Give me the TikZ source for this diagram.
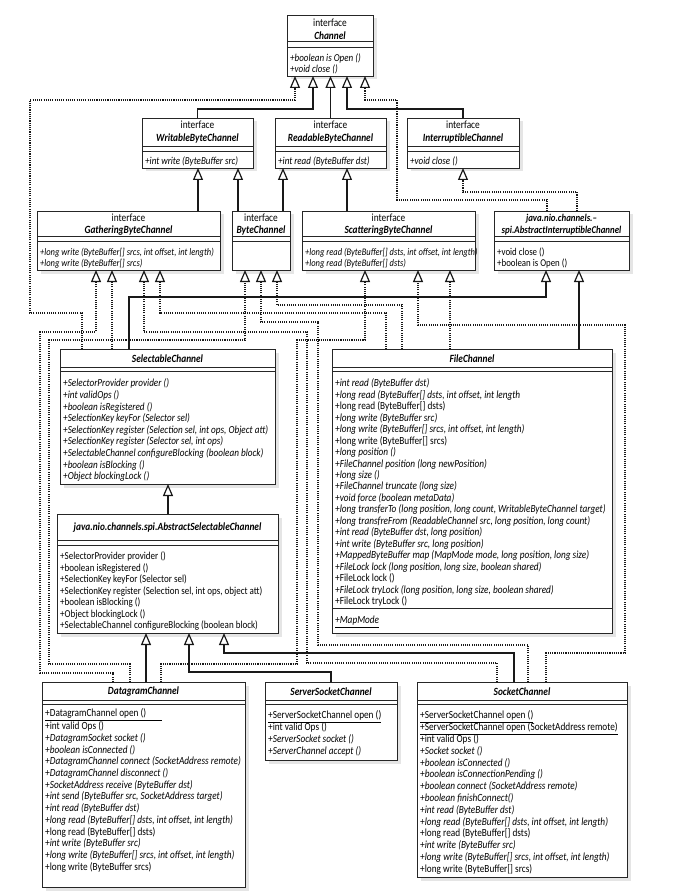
\documentclass[tikz,border=0pt]{standalone}
\usepackage{fontspec}
\setmainfont{Carlito}[FakeStretch=0.85]
\usetikzlibrary{arrows.meta,shadows}
\newcommand\itl[1]{\textit{#1}}
\newcommand\clsname[1]{\textbf{\textit{#1}}}
\newcommand\fstrut{\rule{0pt}{8.7pt}}
\tikzset{
  cls/.style={draw=black!85, line width=0.8pt, fill=white, inner sep=0pt, outer sep=0pt, anchor=north west,
     drop shadow={shadow xshift=3.5pt, shadow yshift=-3.5pt, fill=black!20}},
  sepline/.style={draw=black!85, line width=0.6pt},
  ttl/.style={align=center, inner sep=0pt, font=\fontsize{11}{12.5}\selectfont},
  meth/.style={align=left, inner sep=0pt, anchor=north west, font=\fontsize{10.9}{11.6}\selectfont},
  tip/.style={-{Triangle[open, length=12pt, width=10pt, line width=1.2pt]}},
  gen/.style={tip, line width=1.7pt, draw=black!90},
  real/.style={tip, line width=1.1pt, dash pattern=on 1.1pt off 1.1pt, draw=black!90},
}
\newcommand\uclass[5]{\node[cls, minimum width={#4-#2}, minimum height={#5-#3}] (#1) at (#2,#3) {};}
\newcommand\usep[2]{\draw[sepline] (#1.west |- 0,#2) -- (#1.east |- 0,#2);}
\begin{document}
\begin{tikzpicture}[x=1pt, y=-1pt]
\useasboundingbox (0,0) rectangle (680,893);
\fill[white] (0,0) rectangle (680,893);

% ---------- class boxes ----------
\uclass{Ch}{287}{15}{373}{76}
\uclass{W}{142}{118}{253}{168}
\uclass{R}{275}{118}{386}{168}
\uclass{I}{407}{118}{519}{168}
\uclass{G}{37}{211}{220}{270}
\uclass{B}{232}{211}{290}{270}
\uclass{S}{302}{211}{475}{270}
\uclass{AI}{494}{211}{629}{270}
\uclass{SC}{60}{349}{275}{484}
\uclass{AS}{57}{514}{278}{633}
\uclass{F}{332}{349}{612}{633}
\uclass{D}{42}{682}{245}{887}
\uclass{SS}{265}{682}{397}{760}
\uclass{K}{417}{682}{627}{877}

% ---------- separators ----------
\usep{Ch}{41}\usep{Ch}{47}
\foreach \n in {W,R,I}{\usep{\n}{146}\usep{\n}{151}}
\foreach \n in {G,B,S,AI}{\usep{\n}{236}\usep{\n}{241}}
\foreach \n in {SC,F}{\usep{\n}{367}\usep{\n}{371}}
\usep{AS}{540}\usep{AS}{545}
\usep{F}{608}
\foreach \n in {D,SS,K}{\usep{\n}{700}\usep{\n}{704}}

% ---------- generalization (solid) ----------
\draw[gen] (W.north) |- (313,109) -- (Ch.south -| 313,0);
\draw[gen] (R.north) -- (Ch.south -| R.north);
\draw[gen] (I.north) |- (347,109) -- (Ch.south -| 347,0);
\draw[gen] (G.north -| 198,0) -- (W.south -| 198,0);
\draw[gen] (B.north -| 238,0) -- (W.south -| 238,0);
\draw[gen] (B.north -| 283,0) -- (R.south -| 283,0);
\draw[gen] (S.north -| 347,0) -- (R.south -| 347,0);
\draw[gen] (SC.north -| 129,0) |- (546,297) -- (AI.south -| 546,0);
\draw[gen] (F.north -| 579,0) -- (AI.south -| 579,0);
\draw[gen] (AS.north -| 168,0) -- (SC.south -| 168,0);
\draw[gen] (D.north -| 146,0) -- (AS.south -| 146,0);
\draw[gen] (SS.north) |- (189,672) -- (AS.south -| 189,0);
\draw[gen] (K.north -| 514,0) |- (224,653) -- (AS.south -| 224,0);

% ---------- realization (dotted) ----------
\draw[real] (AI.north -| 547,0) |- (397,200) |- (365,100) -- (Ch.south -| 365,0);
\draw[real] (AI.north -| 577,0) |- (463,192) -- (I.south -| 463,0);
\draw[real] (SC.north -| 82,0) |- (30,313) |- (295,100) -- (Ch.south -| 295,0);
\draw[real] (SC.north -| 112,0) -- (G.south -| 112,0);
\draw[real] (D.north -| 113,0) |- (40,673) |- (96,332) -- (G.south -| 96,0);
\draw[real] (D.north -| 130,0) |- (49,664) |- (245,340) -- (B.south -| 245,0);
\draw[real] (D.north -| 161,0) |- (297,664) |- (365,340) -- (S.south -| 365,0);
\draw[real] (K.north -| 497,0) |- (307,663) |- (144,332) -- (G.south -| 144,0);
\draw[real] (K.north -| 528,0) |- (318,645) |- (261,322) -- (B.south -| 261,0);
\draw[real] (K.north -| 546,0) |- (625,653) |- (418,325) -- (S.south -| 418,0);
\draw[real] (F.north -| 386,0) |- (160,313) -- (G.south -| 160,0);
\draw[real] (F.north -| 402,0) |- (277,305) -- (B.south -| 277,0);
\draw[real] (F.north -| 450,0) -- (S.south -| 450,0);

% ---------- titles ----------
\node[ttl] (Ch-t) at (330,29.5) {interface\\\clsname{Channel}};
\node[ttl] (W-t) at (197.5,132) {interface\\\clsname{WritableByteChannel}};
\node[ttl] (R-t) at (330.5,132) {interface\\\clsname{ReadableByteChannel}};
\node[ttl] (I-t) at (463,132) {interface\\\clsname{InterruptibleChannel}};
\node[ttl] (G-t) at (128.5,224.5) {interface\\\clsname{GatheringByteChannel}};
\node[ttl] (B-t) at (261,224.5) {interface\\\clsname{ByteChannel}};
\node[ttl] (S-t) at (388.5,224.5) {interface\\\clsname{ScatteringByteChannel}};
\node[ttl, font=\fontsize{10.4}{12.5}\selectfont] (AI-t) at (561.5,224.5) {\clsname{java.nio.channels.–}\\\clsname{spi.AbstractInterruptibleChannel}};
\node[ttl] (SC-t) at (167.5,359) {\clsname{SelectableChannel}};
\node[ttl] (AS-t) at (167.5,527.5) {\clsname{java.nio.channels.spi.AbstractSelectableChannel}};
\node[ttl] (F-t) at (472,359) {\clsname{FileChannel}};
\node[ttl] (D-t) at (143.5,692) {\clsname{DatagramChannel}};
\node[ttl] (SS-t) at (331,692) {\clsname{ServerSocketChannel}};
\node[ttl] (K-t) at (522,692) {\clsname{SocketChannel}};

% ---------- operations ----------
\node[meth, font=\fontsize{10.6}{11}\selectfont] (Ch-m) at (290,53) {\fstrut\itl{+boolean is Open ()}\\\itl{+void close ()}};
\node[meth, font=\fontsize{10.6}{11}\selectfont] (W-m) at (145,156) {\fstrut\itl{+int write (ByteBuffer src)}};
\node[meth, font=\fontsize{10.6}{11}\selectfont] (R-m) at (278,156) {\fstrut\itl{+int read (ByteBuffer dst)}};
\node[meth, font=\fontsize{10.6}{11}\selectfont] (I-m) at (410,156) {\fstrut\itl{+void close ()}};
\node[meth, font=\fontsize{10}{10.3}\selectfont] (G-m) at (40,247) {\fstrut\itl{+long write (ByteBuffer[] srcs, int offset, int length)}\\\itl{+long write (ByteBuffer[] srcs)}};
\node[meth, font=\fontsize{10}{10.3}\selectfont] (S-m) at (305,247) {\fstrut\itl{+long read (ByteBuffer[] dsts, int offset, int length)}\\\itl{+long read (ByteBuffer[] dsts)}};
\node[meth, font=\fontsize{10.4}{10.3}\selectfont] (AI-m) at (497,247) {\fstrut+void close ()\\+boolean is Open ()};

\node[meth, font=\fontsize{10.8}{11.6}\selectfont] (SC-m) at (63,378) {\fstrut\itl{+SelectorProvider provider ()}\\
\itl{+int validOps ()}\\
\itl{+boolean isRegistered ()}\\
\itl{+SelectionKey keyFor (Selector sel)}\\
\itl{+SelectionKey register (Selection sel, int ops, Object att)}\\
\itl{+SelectionKey register (Selector sel, int ops)}\\
\itl{+SelectableChannel configureBlocking (boolean block)}\\
\itl{+boolean isBlocking ()}\\
\itl{+Object blockingLock ()}};

\node[meth, font=\fontsize{10.6}{11.5}\selectfont] (AS-m) at (60,551) {\fstrut+SelectorProvider provider ()\\
+boolean isRegistered ()\\
+SelectionKey keyFor (Selector sel)\\
+SelectionKey register (Selection sel, int ops, object att)\\
+boolean isBlocking ()\\
+Object blockingLock ()\\
+SelectableChannel configureBlocking (boolean block)};

\node[meth, font=\fontsize{10.9}{11.45}\selectfont] (F-m) at (335,378) {\fstrut\itl{+int read (ByteBuffer dst)}\\
\itl{+long read (ByteBuffer[] dsts, int offset, int length}\\
+long read (ByteBuffer[] dsts)\\
\itl{+long write (ByteBuffer src)}\\
\itl{+long write (ByteBuffer[] srcs, int offset, int length)}\\
+long write (ByteBuffer[] srcs)\\
\itl{+long position ()}\\
\itl{+FileChannel position (long newPosition)}\\
\itl{+long size ()}\\
\itl{+FileChannel truncate (long size)}\\
\itl{+void force (boolean metaData)}\\
\itl{+long transferTo (long position, long count, WritableByteChannel target)}\\
\itl{+long transfreFrom (ReadableChannel src, long position, long count)}\\
\itl{+int read (ByteBuffer dst, long position)}\\
\itl{+int write (ByteBuffer src, long position)}\\
\itl{+MappedByteBuffer map (MapMode mode, long position, long size)}\\
\itl{+FileLock lock (long position, long size, boolean shared)}\\
+FileLock lock ()\\
\itl{+FileLock tryLock (long position, long size, boolean shared)}\\
+FileLock tryLock ()};
\node[meth] (F-a) at (335,615) {\fstrut\underline{\itl{+MapMode}}};

\node[meth, font=\fontsize{10.9}{11.7}\selectfont] (D-m) at (45,708) {\fstrut\underline{+DatagramChannel open ()\hspace*{16pt}}\\
+int valid Ops ()\\
\itl{+DatagramSocket socket ()}\\
\itl{+boolean isConnected ()}\\
\itl{+DatagramChannel connect (SocketAddress remote)}\\
\itl{+DatagramChannel disconnect ()}\\
\itl{+SocketAddress receive (ByteBuffer dst)}\\
\itl{+int send (ByteBuffer src, SocketAddress target)}\\
\itl{+int read (ByteBuffer dst)}\\
\itl{+long read (ByteBuffer[] dsts, int offset, int length)}\\
+long read (ByteBuffer[] dsts)\\
\itl{+int write (ByteBuffer src)}\\
\itl{+long write (ByteBuffer[] srcs, int offset, int length)}\\
+long write (ByteBuffer srcs)};

\node[meth, font=\fontsize{10.9}{11.8}\selectfont] (SS-m) at (268,710) {\fstrut\underline{+ServerSocketChannel open ()}\\
+int valid Ops ()\\
\itl{+ServerSocket socket ()}\\
\itl{+ServerChannel accept ()}};

\node[meth, font=\fontsize{10.9}{11.8}\selectfont] (K-m) at (420,710) {\fstrut\underline{+ServerSocketChannel open ()}\\
\underline{+ServerSocketChannel open (SocketAddress remote)}\\
+int valid Ops ()\\
\itl{+Socket socket ()}\\
\itl{+boolean isConnected ()}\\
\itl{+boolean isConnectionPending ()}\\
\itl{+boolean connect (SocketAddress remote)}\\
\itl{+boolean finishConnect()}\\
\itl{+int read (ByteBuffer dst)}\\
\itl{+long read (ByteBuffer[] dsts, int offset, int length)}\\
+long read (ByteBuffer[] dsts)\\
\itl{+int write (ByteBuffer src)}\\
\itl{+long write (ByteBuffer[] srcs, int offset, int length)}\\
+long write (ByteBuffer[] srcs)};
\end{tikzpicture}
\end{document}
